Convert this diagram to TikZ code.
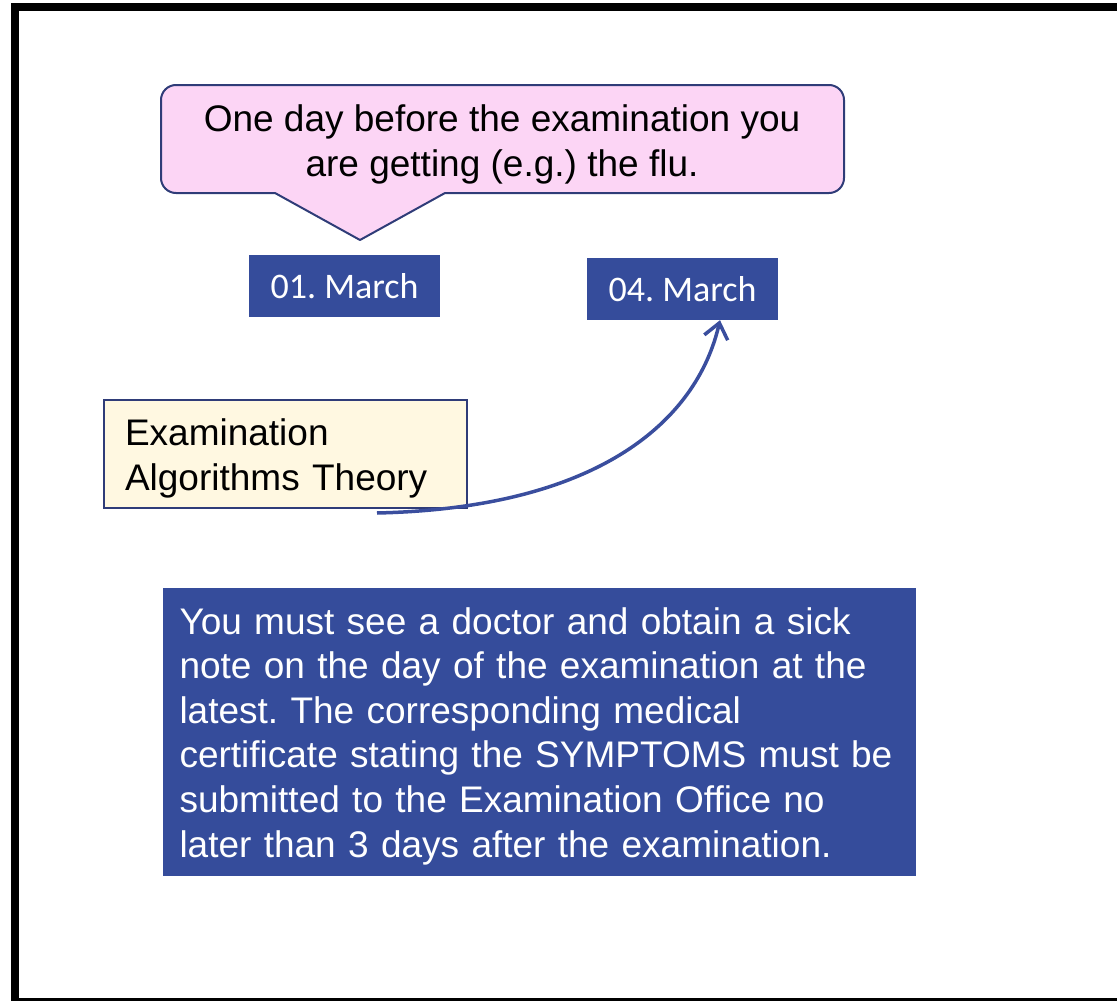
\documentclass[tikz,border=0pt]{standalone}
\usepackage{fontspec}
\setmainfont{Liberation Sans}
\newfontfamily\datefont{Carlito}
\usepackage{tikz}
\usetikzlibrary{arrows.meta}
\definecolor{boxblue}{HTML}{354C9B}
\definecolor{navyline}{HTML}{2F3C78}
\definecolor{flupink}{HTML}{FCD5F5}
\definecolor{examcream}{HTML}{FFF8E1}
\definecolor{arrowblue}{HTML}{3A4E9E}
\frenchspacing
\tikzset{
  date node/.style={rectangle,fill=boxblue,text=white,inner sep=0pt,minimum width=191pt,minimum height=62pt,font=\datefont\fontsize{36}{40}\selectfont},
  exam node/.style={rectangle,draw=navyline,line width=2pt,fill=examcream,text width=321pt,inner xsep=21pt,minimum height=108pt,align=left,font=\fontsize{37}{45}\selectfont},
  note node/.style={rectangle,fill=boxblue,text=white,text width=720pt,inner xsep=16.5pt,minimum height=288pt,align=left,font=\fontsize{37}{44.6}\selectfont},
  flu node/.style={align=center,font=\fontsize{37}{45}\selectfont},
  balloon/.style={draw=navyline,fill=flupink,line width=2pt,line join=round}
}
\begin{document}
\begin{tikzpicture}[x=1pt,y=-1pt,>={Straight Barb[length=15pt,width=24pt]}]
  \useasboundingbox (0,0) rectangle (1117,1001);
  % frame
  \draw[line width=8pt] (15,7) rectangle (1130,1002);
  % speech balloon
  \draw[balloon,rounded corners=15pt] (161,85) -- (844,85) -- (844,193) -- (465,193) [sharp corners] -- (445,193) -- (360,240) -- (275,193) [rounded corners=15pt] -- (161,193) -- cycle;
  \node[flu node] (flu) at (502,144) {One day before the examination you\\are getting (e.g.) the flu.};
  % dates
  \node[date node] (mar1) at (344.5,286) {01. March};
  \node[date node] (mar4) at (682.5,289) {04. March};
  % exam
  \node[exam node] (exam) at (285.5,454) {\rule{0pt}{35pt}Examination\\Algorithms Theory};
  \coordinate (start) at (377,513);
  \draw[->,arrowblue,line width=3.5pt] (start) .. controls (600,508) and (697,420) .. ([xshift=37.5pt]mar4.south);
  % note
  \node[note node] (note) at (539.5,732) {\rule{0pt}{35pt}You must see a doctor and obtain a sick\\note on the day of the examination at the\\latest. The corresponding medical\\certificate stating the SYMPTOMS must be\\submitted to the Examination Office no\\later than 3 days after the examination.};
\end{tikzpicture}
\end{document}
